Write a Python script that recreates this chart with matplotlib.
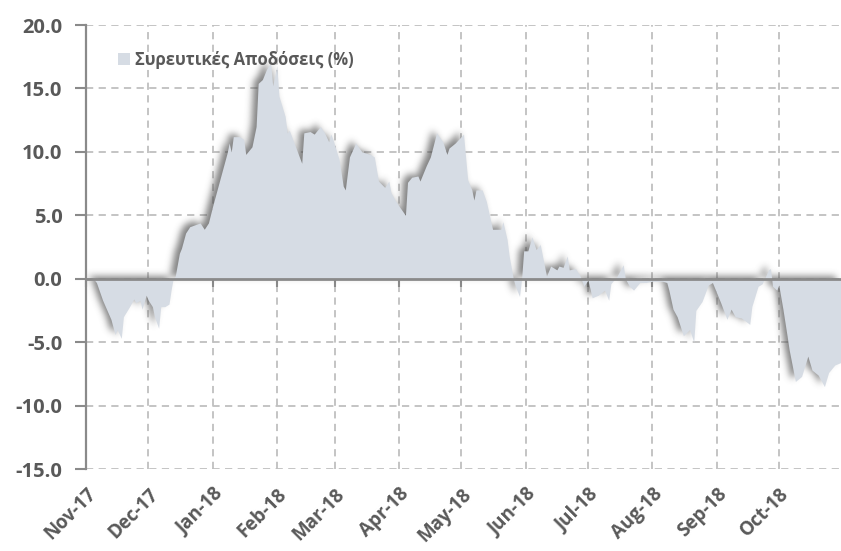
import numpy as np
import pandas as pd
import matplotlib
matplotlib.use("Agg")
import matplotlib.pyplot as plt

plt.rcParams['font.family'] = ['Open Sans', 'Noto Sans', 'DejaVu Sans']

start = pd.Timestamp('2017-11-01')
# days since 1 Nov 2017 and the cumulative return (%)
days = [0, 4, 5, 8, 12, 14, 15, 17, 18, 21, 23, 24, 26, 27, 29, 30, 32, 33, 35, 36,
        38, 40, 41, 42, 43, 45, 46, 48, 50, 55, 57, 59, 61, 65, 68, 69, 70, 71, 74, 76,
        77, 80, 82, 83, 85, 87, 89, 90, 92, 93, 96, 97, 98, 101, 104, 105, 108, 110, 113, 115,
        117, 118, 119, 122, 124, 125, 127, 130, 133, 137, 139, 141, 144, 146, 147, 149, 151, 154, 155, 157,
        160, 161, 164, 166, 169, 172, 174, 175, 178, 182, 183, 184, 186, 187, 188, 191, 193, 196, 200, 201,
        203, 204, 206, 207, 209, 210, 211, 213, 215, 217, 219, 222, 224, 227, 228, 230, 232, 233, 236, 238,
        240, 242, 244, 247, 250, 252, 253, 256, 259, 260, 262, 264, 267, 270, 273, 278, 280, 281, 283, 285,
        288, 291, 293, 294, 297, 300, 302, 304, 306, 309, 311, 313, 316, 320, 321, 324, 326, 329, 330, 331,
        333, 334, 336, 338, 339, 342, 345, 348, 350, 353, 356, 358, 361, 364]
returns = [0.0, -0.1, -0.3, -1.7, -3.2, -4.4, -4.0, -4.7, -3.0, -2.2, -1.6, -1.9, -1.7, -2.4, -1.3, -1.7, -2.2, -3.0, -3.9, -2.2,
           -2.2, -2.0, -0.9, 0.0, 0.2, 2.0, 2.4, 3.6, 4.1, 4.4, 3.9, 4.4, 5.7, 8.1, 9.9, 10.7, 10.0, 11.2, 11.2, 11.0,
           9.8, 10.4, 12.0, 15.4, 15.7, 16.5, 17.0, 15.2, 16.8, 14.4, 12.8, 11.5, 11.7, 10.4, 9.1, 11.5, 11.6, 11.4, 12.0, 11.5,
           10.8, 11.4, 11.0, 9.4, 7.3, 7.0, 9.6, 10.7, 10.0, 9.8, 9.6, 7.7, 7.2, 7.7, 6.8, 6.2, 5.7, 5.0, 7.6, 8.0,
           8.1, 7.7, 8.9, 9.6, 11.5, 10.8, 9.8, 10.3, 10.7, 11.4, 9.6, 7.8, 7.0, 6.2, 7.0, 7.0, 6.1, 3.9, 3.9, 4.5,
           3.1, 1.8, 0.0, -0.6, -1.4, 0.0, 2.2, 2.2, 3.3, 2.3, 2.7, 0.2, 1.0, 0.7, 1.0, 0.9, 1.8, 0.7, 0.8, 0.3,
           -0.6, -0.1, -1.5, -1.3, -0.9, -1.7, -0.4, 0.2, 1.1, 0.0, -0.6, -0.9, -0.3, -0.3, -0.2, -0.2, -0.3, -0.9, -2.4, -3.0,
           -4.5, -4.0, -5.0, -2.5, -1.8, -0.5, -0.3, -1.1, -1.9, -3.2, -2.4, -3.0, -3.1, -3.6, -2.2, -0.6, -0.4, 0.7, 0.8, -0.6,
           -0.9, -0.5, -2.4, -4.5, -5.6, -8.1, -7.7, -6.1, -7.2, -7.6, -8.5, -7.4, -6.8, -6.6]
series_name = 'Συρευτικές Αποδόσεις (%)'
y_ticks = [20, 15, 10, 5, 0, -5, -10, -15]

dates = start + pd.to_timedelta(days, unit='D')
months = pd.date_range('2017-11-01', '2018-10-01', freq='MS')
x_end = start + pd.Timedelta(days=364)

fill_c = '#D6DCE4'
grid_c = '#BFBFBF'
axis_c = '#8A8A8A'
text_c = '#595959'

W, H, DPI = 8.41, 5.51, 100
ax_pos = [0.1023, 0.1488, 0.8977, 0.8058]


def shadow_mask(shift_x=-5, shift_y=-3, sigma=3.5):
    # draw the area alone, then blur it to get a soft drop shadow
    f2 = plt.figure(figsize=(W, H), dpi=DPI)
    a2 = f2.add_axes(ax_pos)
    a2.fill_between(dates, returns, 0, color='black', lw=0)
    a2.set_xlim(start, x_end)
    a2.set_ylim(-15, 20)
    a2.axis('off')
    f2.canvas.draw()
    img = np.asarray(f2.canvas.buffer_rgba())[:, :, 0].astype(float)
    bb = a2.get_window_extent()
    plt.close(f2)
    ih = img.shape[0]
    m = 1 - img / 255.0
    m = np.roll(np.roll(m, shift_y, axis=0), shift_x, axis=1)
    rad = int(3 * sigma)
    k = np.exp(-0.5 * (np.arange(-rad, rad + 1) / sigma) ** 2)
    k /= k.sum()
    pad = np.pad(m, ((0, 0), (rad, rad)), mode='edge')
    m = sum(k[i] * pad[:, i:i + m.shape[1]] for i in range(2 * rad + 1))
    pad = np.pad(m, ((rad, rad), (0, 0)), mode='edge')
    m = sum(k[i] * pad[i:i + m.shape[0]] for i in range(2 * rad + 1))
    r0, r1 = int(round(ih - bb.y1)), int(round(ih - bb.y0))
    c0, c1 = int(round(bb.x0)), int(round(bb.x1))
    return m[r0:r1, c0:c1]


fig = plt.figure(figsize=(W, H), dpi=DPI)
ax = fig.add_axes(ax_pos)

mask = shadow_mask()
rgba = np.zeros(mask.shape + (4,))
rgba[..., :3] = 0.3
rgba[..., 3] = np.clip(mask, 0, 1) * 0.7
ax.imshow(rgba, extent=[0, 1, 0, 1], transform=ax.transAxes, aspect='auto',
          zorder=1, interpolation='bilinear')

ax.fill_between(dates, returns, 0, color=fill_c, lw=0, zorder=2, label=series_name)

ax.set_ylim(-15, 20)
ax.set_xlim(start, x_end)
ax.set_yticks(y_ticks)
ax.set_yticklabels([f'{v:.1f}' for v in y_ticks])
ax.set_xticks(months)
ax.tick_params(axis='x', labelbottom=False, direction='out', length=6, width=1.5, color=axis_c)
ax.tick_params(axis='y', direction='out', length=8, width=1.5, color=axis_c, pad=9,
               labelsize=14.5, labelcolor=text_c)
for lab in ax.get_yticklabels():
    lab.set_fontweight('bold')

ax.grid(True, color=grid_c, linestyle=(0, (4, 3)), linewidth=1.3, zorder=0)
ax.set_axisbelow(True)

for s in ['top', 'right']:
    ax.spines[s].set_visible(False)
ax.spines['left'].set_color(axis_c)
ax.spines['left'].set_linewidth(1.6)
ax.spines['bottom'].set_position(('data', 0))
ax.spines['bottom'].set_color(axis_c)
ax.spines['bottom'].set_linewidth(2)
ax.spines['bottom'].set_zorder(5)

sec = ax.secondary_xaxis(0.0)
sec.set_xticks(months)
sec.set_xticklabels([m.strftime('%b-%y') for m in months], rotation=45, ha='right',
                    rotation_mode='anchor', fontsize=13.5, fontweight='bold', color=text_c)
sec.tick_params(length=0, pad=11)
sec.spines['bottom'].set_visible(False)

leg = ax.legend(loc='upper left', bbox_to_anchor=(0.022, 0.975), frameon=False,
                handlelength=0.75, handleheight=0.75, handletextpad=0.3,
                prop={'size': 12, 'weight': 'bold'})
for t in leg.get_texts():
    t.set_color(text_c)

fig.savefig('out.png', dpi=DPI)
